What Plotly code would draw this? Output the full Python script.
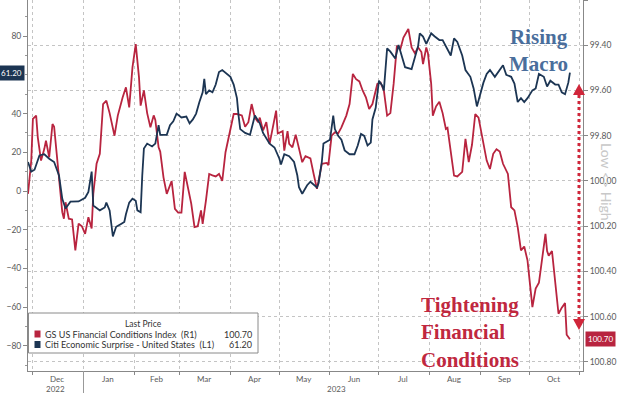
import plotly.graph_objects as go

# ---------------- data ----------------
citi_dates = [
    "2022-11-28", "2022-11-30", "2022-12-02", "2022-12-05", "2022-12-08", "2022-12-11", "2022-12-14",
    "2022-12-17", "2022-12-19", "2022-12-21", "2022-12-24", "2022-12-29", "2023-01-02", "2023-01-04",
    "2023-01-06", "2023-01-07", "2023-01-11", "2023-01-14", "2023-01-15", "2023-01-17", "2023-01-19",
    "2023-01-21", "2023-01-24", "2023-01-26", "2023-01-27", "2023-01-29", "2023-01-31", "2023-02-02",
    "2023-02-03", "2023-02-05", "2023-02-06", "2023-02-07", "2023-02-09", "2023-02-12", "2023-02-14",
    "2023-02-16", "2023-02-17", "2023-02-21", "2023-02-23", "2023-02-25", "2023-02-27", "2023-03-02",
    "2023-03-05", "2023-03-07", "2023-03-09", "2023-03-11", "2023-03-13", "2023-03-15", "2023-03-16",
    "2023-03-17", "2023-03-19", "2023-03-21", "2023-03-23", "2023-03-25", "2023-03-27", "2023-03-29",
    "2023-04-01", "2023-04-03", "2023-04-05", "2023-04-06", "2023-04-07", "2023-04-10", "2023-04-13",
    "2023-04-16", "2023-04-19", "2023-04-21", "2023-04-23", "2023-04-25", "2023-04-28", "2023-05-01",
    "2023-05-02", "2023-05-04", "2023-05-07", "2023-05-10", "2023-05-12", "2023-05-13", "2023-05-15",
    "2023-05-18", "2023-05-20", "2023-05-22", "2023-05-24", "2023-05-25", "2023-05-27", "2023-05-28",
    "2023-06-01", "2023-06-03", "2023-06-04", "2023-06-06", "2023-06-08", "2023-06-10", "2023-06-13",
    "2023-06-16", "2023-06-18", "2023-06-20", "2023-06-22", "2023-06-24", "2023-06-26", "2023-06-27",
    "2023-06-29", "2023-07-01", "2023-07-03", "2023-07-04", "2023-07-06", "2023-07-08", "2023-07-11",
    "2023-07-13", "2023-07-15", "2023-07-17", "2023-07-21", "2023-07-23", "2023-07-25", "2023-07-26",
    "2023-07-28", "2023-07-30", "2023-08-02", "2023-08-04", "2023-08-07", "2023-08-09", "2023-08-11",
    "2023-08-14", "2023-08-16", "2023-08-18", "2023-08-21", "2023-08-23", "2023-08-26", "2023-08-28",
    "2023-08-30", "2023-09-01", "2023-09-03", "2023-09-05", "2023-09-07", "2023-09-10", "2023-09-12",
    "2023-09-14", "2023-09-15", "2023-09-17", "2023-09-20", "2023-09-22", "2023-09-24", "2023-09-26",
    "2023-09-28", "2023-09-30", "2023-10-03", "2023-10-05", "2023-10-07", "2023-10-10", "2023-10-12",
    "2023-10-14", "2023-10-17", "2023-10-19", "2023-10-21", "2023-10-23", "2023-10-25", "2023-10-26",
]
citi_values = [
    15, 10, 11, 18.4, 19, 16.7, 15,
    8, -4, -9, -5.5, -5.4, -3.5, -0.5,
    10, -7.5, -10, -8.5, -6, -10, -23.5,
    -18.5, -17, -16, -12, -6, -4, -5,
    -10, -11, 8, 22, 24.5, 23, 24.5,
    34, 29, 29, 34, 36, 40, 38,
    38.5, 35, 37, 40, 46, 51, 58,
    50, 52, 51, 55, 61.5, 62.5, 61,
    59, 55, 48, 39, 32, 30, 29,
    39, 35, 30, 27, 24.5, 22.5, 16.7,
    13.7, 19, 18, 15, 8, 2, -1.4,
    3, 4.8, 3.5, 1.8, 4, 15, 24.5,
    26.5, 39, 32, 28.5, 26.5, 21, 19,
    19, 23.5, 29.5, 28.5, 23.5, 25, 37,
    43, 57, 54.5, 52, 73.7, 72, 68.5,
    75.5, 70, 64, 63, 68.5, 75, 81.5,
    79.8, 76, 81.5, 80, 78, 78, 74.5,
    70, 78.9, 77, 70, 62.5, 59, 53,
    43.7, 50.5, 56, 60.5, 62.5, 59, 61.5,
    64, 65, 60, 59, 55.5, 46, 48,
    46, 48, 52, 53, 60.5, 59, 54,
    57, 55, 55, 51, 50, 56, 61.2,
]

gs_dates = [
    "2022-11-28", "2022-11-30", "2022-12-01", "2022-12-03", "2022-12-04", "2022-12-06", "2022-12-08",
    "2022-12-09", "2022-12-11", "2022-12-13", "2022-12-14", "2022-12-15", "2022-12-17", "2022-12-19",
    "2022-12-20", "2022-12-21", "2022-12-23", "2022-12-25", "2022-12-27", "2022-12-29", "2022-12-31",
    "2023-01-02", "2023-01-04", "2023-01-06", "2023-01-07", "2023-01-09", "2023-01-11", "2023-01-13",
    "2023-01-15", "2023-01-17", "2023-01-20", "2023-01-22", "2023-01-25", "2023-01-27", "2023-01-29",
    "2023-01-31", "2023-02-02", "2023-02-04", "2023-02-05", "2023-02-07", "2023-02-09", "2023-02-11",
    "2023-02-13", "2023-02-14", "2023-02-16", "2023-02-17", "2023-02-19", "2023-02-21", "2023-02-24",
    "2023-02-26", "2023-02-28", "2023-03-02", "2023-03-04", "2023-03-06", "2023-03-08", "2023-03-10",
    "2023-03-12", "2023-03-14", "2023-03-15", "2023-03-17", "2023-03-19", "2023-03-21", "2023-03-23",
    "2023-03-25", "2023-03-27", "2023-03-29", "2023-04-01", "2023-04-03", "2023-04-05", "2023-04-08",
    "2023-04-10", "2023-04-12", "2023-04-14", "2023-04-16", "2023-04-18", "2023-04-19", "2023-04-21",
    "2023-04-23", "2023-04-25", "2023-04-27", "2023-04-29", "2023-04-30", "2023-05-03", "2023-05-04",
    "2023-05-06", "2023-05-07", "2023-05-09", "2023-05-11", "2023-05-13", "2023-05-15", "2023-05-17",
    "2023-05-20", "2023-05-22", "2023-05-24", "2023-05-25", "2023-05-27", "2023-05-30", "2023-05-31",
    "2023-06-02", "2023-06-04", "2023-06-06", "2023-06-08", "2023-06-11", "2023-06-13", "2023-06-15",
    "2023-06-17", "2023-06-19", "2023-06-21", "2023-06-23", "2023-06-25", "2023-06-27", "2023-06-28",
    "2023-06-30", "2023-07-02", "2023-07-04", "2023-07-06", "2023-07-08", "2023-07-10", "2023-07-12",
    "2023-07-14", "2023-07-16", "2023-07-19", "2023-07-21", "2023-07-23", "2023-07-25", "2023-07-27",
    "2023-07-28", "2023-07-30", "2023-07-31", "2023-08-02", "2023-08-03", "2023-08-05", "2023-08-07",
    "2023-08-09", "2023-08-11", "2023-08-12", "2023-08-14", "2023-08-16", "2023-08-18", "2023-08-21",
    "2023-08-23", "2023-08-25", "2023-08-27", "2023-08-29", "2023-08-31", "2023-09-02", "2023-09-05",
    "2023-09-07", "2023-09-09", "2023-09-11", "2023-09-13", "2023-09-15", "2023-09-18", "2023-09-20",
    "2023-09-22", "2023-09-24", "2023-09-26", "2023-09-28", "2023-09-30", "2023-10-03", "2023-10-05",
    "2023-10-07", "2023-10-09", "2023-10-11", "2023-10-12", "2023-10-13", "2023-10-15", "2023-10-17",
    "2023-10-19", "2023-10-21", "2023-10-23", "2023-10-24", "2023-10-26",
]
gs_values = [
    100.057, 99.910, 99.726, 99.711, 99.807, 99.910, 99.858,
    99.822, 99.895, 99.748, 99.760, 99.836, 100.013, 100.138,
    100.167, 100.094, 100.167, 100.170, 100.307, 100.189, 100.200,
    100.234, 100.160, 100.210, 100.057, 99.924, 99.880, 99.660,
    99.645, 99.700, 99.800, 99.711, 99.630, 99.586, 99.675,
    99.498, 99.395, 99.542, 99.667, 99.600, 99.700, 99.763,
    99.710, 99.730, 99.851, 99.870, 99.984, 100.057, 100.000,
    100.123, 100.140, 100.140, 99.960, 100.030, 100.100, 100.204,
    100.200, 100.130, 100.190, 100.087, 99.969, 99.975, 99.980,
    99.969, 100.000, 99.873, 99.763, 99.704, 99.704, 99.710,
    99.760, 99.740, 99.660, 99.720, 99.740, 99.720, 99.777,
    99.740, 99.836, 99.760, 99.689, 99.790, 99.780, 99.866,
    99.780, 99.836, 99.851, 99.795, 99.856, 99.917, 99.890,
    99.900, 99.969, 100.035, 100.000, 99.924, 99.920, 99.930,
    99.800, 99.785, 99.790, 99.763, 99.711, 99.660, 99.527,
    99.550, 99.560, 99.600, 99.630, 99.682, 99.660, 99.630,
    99.571, 99.565, 99.600, 99.711, 99.700, 99.570, 99.402,
    99.420, 99.366, 99.328, 99.410, 99.435, 99.410, 99.430,
    99.483, 99.410, 99.435, 99.571, 99.711, 99.670, 99.650,
    99.700, 99.770, 99.765, 99.880, 99.976, 99.980, 99.960,
    99.814, 99.917, 99.840, 99.704, 99.720, 99.800, 99.910,
    99.947, 99.880, 99.860, 99.870, 99.924, 99.969, 100.116,
    100.130, 100.204, 100.307, 100.290, 100.351, 100.558, 100.476,
    100.450, 100.351, 100.234, 100.310, 100.330, 100.310, 100.440,
    100.587, 100.560, 100.540, 100.680, 100.700,
]

month_starts = ["2022-12-01", "2023-01-01", "2023-02-01", "2023-03-01", "2023-04-01", "2023-05-01",
                "2023-06-01", "2023-07-01", "2023-08-01", "2023-09-01", "2023-10-01", "2023-11-01"]
month_mids = ["2022-12-16", "2023-01-16", "2023-02-15", "2023-03-16", "2023-04-16", "2023-05-16",
              "2023-06-16", "2023-07-16", "2023-08-16", "2023-09-16", "2023-10-16"]
month_labels = ["Dec", "Jan", "Feb", "Mar", "Apr", "May", "Jun", "Jul", "Aug", "Sep", "Oct"]
year_labels = ["2022", "2023"]
year_pos = ["2022-12-15", "2023-06-05"]
left_ticks = [-80, -60, -40, -20, 0, 20, 40, 80]

gs_name = "GS US Financial Conditions Index&nbsp;&nbsp;(R1)"
citi_name = "Citi Economic Surprise - United States&nbsp;&nbsp;(L1)"
gs_last = "100.70"
citi_last = "61.20"

RED = "#b8243f"
NAVY = "#1c3553"
TICKC = "#5a5a5a"
GRID = "#c4c4c4"

fig = go.Figure()
fig.add_trace(go.Scatter(x=gs_dates, y=gs_values, mode="lines", name="GS US Financial Conditions Index (R1)",
                         line=dict(color=RED, width=1.8), yaxis="y"))
fig.add_trace(go.Scatter(x=citi_dates, y=citi_values, mode="lines", name="Citi Economic Surprise - United States (L1)",
                         line=dict(color=NAVY, width=1.8), yaxis="y2"))

L, R, T, B = 28, 37, 0, 22
W, H = 620, 393
PW, PH = W - L - R, H - T - B


def px(xp):
    return (xp - L) / PW


def py(yp):
    return (H - B - yp) / PH


fig.update_layout(
    width=W, height=H,
    margin=dict(l=L, r=R, t=T, b=B, autoexpand=False),
    paper_bgcolor="white", plot_bgcolor="white",
    showlegend=False,
    font=dict(family="Lato, Open Sans, sans-serif", size=9, color=TICKC),
    xaxis=dict(
        type="date", range=["2022-11-28", "2023-11-03"], automargin=False,
        tickvals=month_starts, showticklabels=False,
        showgrid=True, gridcolor=GRID, griddash="dot", gridwidth=1,
        ticks="outside", ticklen=3, tickcolor="#888",
        showline=True, linecolor="#888", linewidth=1, zeroline=False,
    ),
    yaxis=dict(
        side="right", range=[100.84, 99.20], automargin=False,
        tick0=99.4, dtick=0.2, tickformat=".2f",
        showgrid=True, gridcolor=GRID, griddash="dot", gridwidth=1,
        ticks="outside", ticklen=4, tickcolor="#888",
        showline=True, linecolor="#888", linewidth=1,
        tickfont=dict(size=8.5, color=TICKC), zeroline=False,
    ),
    yaxis2=dict(
        overlaying="y", side="left", range=[-93, 98.7], automargin=False,
        tickvals=left_ticks, showgrid=False, zeroline=False,
        ticks="outside", ticklen=4, tickcolor="#888",
        minor=dict(dtick=10, ticks="outside", ticklen=2, tickcolor="#999"),
        showline=True, linecolor="#888", linewidth=1,
        tickfont=dict(size=8.5, color=TICKC),
    ),
)

shapes = []
annotations = []

# month and year labels, year separator
for m, lab in zip(month_mids, month_labels):
    annotations.append(dict(x=m, y=py(378.5), xref="x", yref="paper", text=lab,
                            xanchor="center", yanchor="middle",
                            showarrow=False, font=dict(size=8, color=TICKC)))
for yp, lab in zip(year_pos, year_labels):
    annotations.append(dict(x=yp, y=py(388.5), xref="x", yref="paper", text=lab,
                            xanchor="center", yanchor="middle",
                            showarrow=False, font=dict(size=8, color=TICKC)))
shapes.append(dict(type="line", xref="x", yref="paper", x0="2023-01-01", x1="2023-01-01",
                   y0=0, y1=py(393), line=dict(color="#999", width=1)))

# last price boxes
annotations.append(dict(x=0, xref="paper", y=61.2, yref="y2", text=citi_last, showarrow=False,
                        xanchor="right", yanchor="middle", xshift=-3, bgcolor=NAVY, borderpad=2,
                        font=dict(size=8, color="white")))
annotations.append(dict(x=1, xref="paper", y=100.70, yref="y", text=gs_last, showarrow=False,
                        xanchor="left", yanchor="middle", xshift=2, bgcolor=RED, borderpad=2,
                        font=dict(size=8, color="white")))

# legend box
shapes.append(dict(type="rect", xref="paper", yref="paper", x0=px(28.5), x1=px(258), y0=py(353), y1=py(313),
                   fillcolor="white", line=dict(color="#8a8a8a", width=1)))
annotations.append(dict(x=px(143), y=py(324), xref="paper", yref="paper", text="Last Price",
                        xanchor="center", yanchor="middle",
                        showarrow=False, font=dict(size=8.5, color="#333")))
for i, (nm, col, val) in enumerate([(gs_name, RED, gs_last), (citi_name, NAVY, citi_last)]):
    yy = 334 + i * 10.5
    shapes.append(dict(type="rect", xref="paper", yref="paper", x0=px(34.5), x1=px(40.5),
                       y0=py(yy + 3.5), y1=py(yy - 3.5), fillcolor=col, line=dict(width=0)))
    annotations.append(dict(x=px(43), y=py(yy), xref="paper", yref="paper", text=nm,
                            xanchor="left", yanchor="middle",
                            showarrow=False, font=dict(size=9, color="#333")))
    annotations.append(dict(x=px(254), y=py(yy), xref="paper", yref="paper", text=val,
                            xanchor="right", yanchor="middle",
                            showarrow=False, font=dict(size=9, color="#333")))

# commentary
annotations.append(dict(x=px(538), y=py(50), xref="paper", yref="paper", text="<b>Rising<br>Macro</b>",
                        xanchor="center", yanchor="middle",
                        showarrow=False, align="center",
                        font=dict(family="Liberation Serif, serif", size=21, color="#4a6e9c")))
annotations.append(dict(x=px(419), y=py(332), xref="paper", yref="paper",
                        text="<b>Tightening<br>Financial<br>Conditions</b>", xanchor="left", yanchor="middle",
                        showarrow=False, align="left",
                        font=dict(family="Liberation Serif, serif", size=21, color="#c0283f")))
annotations.append(dict(x=px(607), y=py(182), xref="paper", yref="paper", text="Low <> High",
                        xanchor="center", yanchor="middle",
                        showarrow=False, textangle=90,
                        font=dict(family="Lato, sans-serif", size=14, color="#c8c8c8")))

# red dotted double arrow
ax = 579
shapes.append(dict(type="line", xref="paper", yref="paper", x0=px(ax), x1=px(ax), y0=py(95), y1=py(319),
                   line=dict(color="#d0263a", width=3, dash="dot")))
shapes.append(dict(type="path", xref="paper", yref="paper",
                   path=f"M {px(ax)} {py(84)} L {px(ax-6)} {py(95)} L {px(ax+6)} {py(95)} Z",
                   fillcolor="#d0263a", line=dict(width=0)))
shapes.append(dict(type="path", xref="paper", yref="paper",
                   path=f"M {px(ax)} {py(330)} L {px(ax-6)} {py(319)} L {px(ax+6)} {py(319)} Z",
                   fillcolor="#d0263a", line=dict(width=0)))

fig.update_layout(shapes=shapes, annotations=annotations)
fig.write_html("out.html", config={"displayModeBar": False},
               post_script="document.body.style.margin='0px';document.body.style.padding='0px';")
